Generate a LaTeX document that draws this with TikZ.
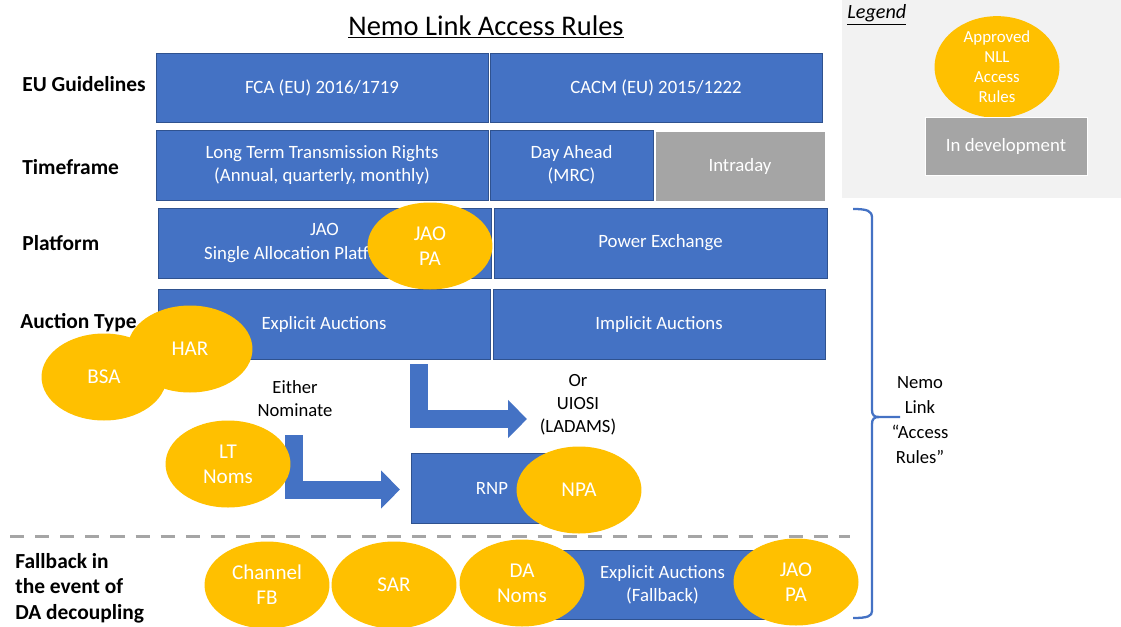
\documentclass[tikz,border=0pt]{standalone}
\usepackage{fontspec}
\setmainfont{Carlito}
\usetikzlibrary{shapes.geometric,arrows.meta}
\definecolor{nllblue}{HTML}{4472C4}
\definecolor{nlledge}{HTML}{2F528F}
\definecolor{nllgold}{HTML}{FFC000}
\definecolor{nllgrey}{HTML}{A5A5A5}
\definecolor{legendbg}{HTML}{F2F2F2}

\begin{document}
\begin{tikzpicture}[x=0.02cm, y=-0.02cm,
    bluebox/.style={rectangle, draw=nlledge, line width=0.4pt, fill=nllblue, text=white, align=center, inner sep=0pt, minimum height=1.4cm, font=\fontsize{10.7}{13.3}\selectfont},
    greybox/.style={bluebox, draw=white, fill=nllgrey},
    rulebubble/.style={ellipse, fill=nllgold, text=white, align=center, inner sep=0pt, minimum width=2.5cm, minimum height=1.74cm, font=\fontsize{12}{14.4}\selectfont},
    rowlabel/.style={anchor=west, align=left, inner sep=0pt, font=\bfseries\fontsize{12.2}{14.6}\selectfont},
    note/.style={align=center, inner sep=0pt, font=\fontsize{10.6}{13.1}\selectfont},
    blockarrow/.style={nllblue, line width=0.36cm, line join=miter, -{Triangle[width=0.74cm, length=0.38cm]}}]
    \useasboundingbox (0,0) rectangle (1121,626);

    % legend
    \fill[legendbg] (842,0) rectangle (1121,198);
    \node[anchor=west, inner sep=0pt, font=\itshape\fontsize{11.5}{13}\selectfont] (legend) at (847,15) {\underline{Legend}};
    \node[rulebubble, font=\fontsize{9.6}{11.4}\selectfont] (legrule) at (997,67) {Approved\\NLL\\Access\\Rules};
    \node[greybox, minimum width=3.24cm, minimum height=1.16cm] (legdev) at (1006,146) {In development};

    \node[inner sep=0pt, font=\fontsize{16.2}{19}\selectfont] (title) at (486,27) {\underline{Nemo Link Access Rules}};

    % row labels
    \node[rowlabel] (lguide) at (22,84) {EU Guidelines};
    \node[rowlabel] (ltime) at (22,167) {Timeframe};
    \node[rowlabel] (lplat) at (22,243) {Platform};
    \node[rowlabel] (lauct) at (20,323) {Auction Type};
    \node[rowlabel] (lfall) at (15,588) {Fallback in\\the event of\\DA decoupling};

    % boxes
    \node[bluebox, minimum width=6.64cm, minimum height=1.38cm] (fca) at (322,87.5) {FCA (EU) 2016/1719};
    \node[bluebox, minimum width=6.64cm, minimum height=1.38cm] (cacm) at (656,87.5) {CACM (EU) 2015/1222};
    \node[bluebox, minimum width=6.64cm] (ltr) at (322,165) {Long Term Transmission Rights\\(Annual, quarterly, monthly)};
    \node[bluebox, minimum width=3.26cm] (dayahead) at (571.5,165) {Day Ahead\\(MRC)};
    \node[greybox, minimum width=3.4cm] (intraday) at (740,166) {Intraday};
    \node[bluebox, minimum width=6.66cm] (jao) at (324.5,243) {JAO\\Single Allocation Platform\hspace*{0.9cm}};
    \node[bluebox, minimum width=6.66cm] (powerex) at (660.5,243) {Power Exchange};
    \node[bluebox, minimum width=6.64cm] (explicit) at (324,324) {Explicit Auctions};
    \node[bluebox, minimum width=6.64cm] (implicit) at (659,324) {Implicit Auctions};
    \node[bluebox, minimum width=3.24cm] (rnp) at (492,488) {RNP};
    \node[bluebox, minimum width=4.5cm, minimum height=1.38cm] (fallback) at (662.5,584.5) {Explicit Auctions\\(Fallback)};

    % arrows
    \node[note] (either) at (295,399) {Either\\Nominate};
    \node[note] (uiosi) at (578,405) {Or\\UIOSI\\(LADAMS)};
    \coordinate (uiosifrom) at (419,364);
    \coordinate (uiosito) at (527,419);
    \coordinate (rnpfrom) at (293.5,435);
    \coordinate (rnpto) at (400,489.5);
    \draw[blockarrow] (uiosifrom) |- (uiosito);
    \draw[blockarrow] (rnpfrom) |- (rnpto);

    % access rules
    \node[rulebubble] (jaopa) at (430,246) {JAO\\PA};
    \node[rulebubble] (bsa) at (104,377) {BSA};
    \node[rulebubble] (har) at (190,349) {HAR};
    \node[rulebubble] (ltnoms) at (228,464) {LT\\Noms};
    \node[rulebubble] (npa) at (579,490) {NPA};
    \node[rulebubble] (chfb) at (267,585) {Channel\\FB};
    \node[rulebubble] (sar) at (394,585) {SAR};
    \node[rulebubble] (danoms) at (522,583) {DA\\Noms};
    \node[rulebubble] (fbjaopa) at (796,582) {JAO\\PA};

    % fallback split
    \draw[nllgrey, line width=1.7pt, dash pattern=on 8pt off 6.3pt] (10,536) -- (850,536);

    % brace
    \coordinate (bracetip) at (900,417);
    \draw[nllblue, line width=1.3pt] (853,209) .. controls (868,209) and (872,211) .. (872,218) -- (872,410)
        .. controls (872,415) and (874,417) .. (879,417) -- (bracetip);
    \draw[nllblue, line width=1.3pt] (879,417) .. controls (874,417) and (872,419) .. (872,424) -- (872,611)
        .. controls (872,616) and (868,618) .. (853,618);
    \node[note, font=\fontsize{10.6}{14.2}\selectfont] (nemo) at (920,420) {Nemo\\Link\\“Access\\Rules”};
\end{tikzpicture}
\end{document}
